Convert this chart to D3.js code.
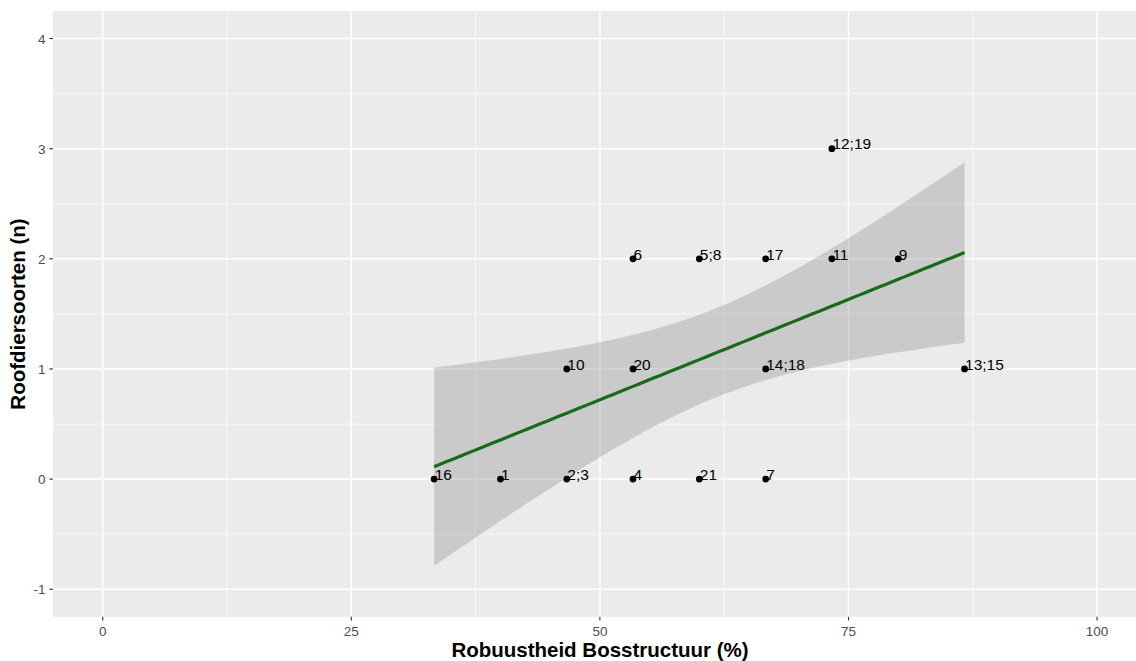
<!DOCTYPE html>
<html><head><meta charset="utf-8">
<script src="https://cdn.jsdelivr.net/npm/d3@7"></script>
<style>body{margin:0;background:#fff;}svg{display:block;}</style>
</head><body>
<svg id="c" width="1136" height="661"></svg>
<script>
// Data: site labels, robustness (%) and number of predator species
const labels = ["16","1","2;3","4","21","7","10","20","14;18","13;15","6","5;8","17","11","9","12;19"];
const xValues = [33.33,40,46.67,53.33,60,66.67,46.67,53.33,66.67,86.67,53.33,60,66.67,73.33,80,73.33];
const yValues = [0,0,0,0,0,0,1,1,1,1,2,2,2,2,2,3];
const counts = [1,1,2,1,1,1,1,1,2,2,1,2,1,1,1,2]; // number of sites per point (for regression)
const xTicks = [0,25,50,75,100];
const yTicks = [-1,0,1,2,3,4];

const svg = d3.select("#c");
const x = d3.scaleLinear().domain([-5,105]).range([53,1146.8]);
const y = d3.scaleLinear().domain([-1.25,4.25]).range([616.8,11]);

// panel
svg.append("rect").attr("x",53).attr("y",11).attr("width",1146.8-53).attr("height",616.8-11).attr("fill","#EBEBEB");
const grid = svg.append("g");
[12.5,37.5,62.5,87.5].forEach(v=>grid.append("line").attr("x1",x(v)).attr("x2",x(v)).attr("y1",11).attr("y2",616.8).attr("stroke","#fff").attr("stroke-width",0.7));
[-0.5,0.5,1.5,2.5,3.5].forEach(v=>grid.append("line").attr("y1",y(v)).attr("y2",y(v)).attr("x1",53).attr("x2",1146.8).attr("stroke","#fff").attr("stroke-width",0.7));
xTicks.forEach(v=>grid.append("line").attr("x1",x(v)).attr("x2",x(v)).attr("y1",11).attr("y2",616.8).attr("stroke","#fff").attr("stroke-width",1.5));
yTicks.forEach(v=>grid.append("line").attr("y1",y(v)).attr("y2",y(v)).attr("x1",53).attr("x2",1146.8).attr("stroke","#fff").attr("stroke-width",1.5));

// regression from data (sites expanded)
const xs=[], ys=[];
xValues.forEach((v,i)=>{for(let k=0;k<counts[i];k++){xs.push(v);ys.push(yValues[i]);}});
const n=xs.length, xm=d3.mean(xs), ym=d3.mean(ys);
let sxx=0,sxy=0; xs.forEach((v,i)=>{sxx+=(v-xm)**2;sxy+=(v-xm)*(ys[i]-ym);});
const b=sxy/sxx, a=ym-b*xm;
let sse=0; xs.forEach((v,i)=>{sse+=(ys[i]-a-b*v)**2;});
const s=Math.sqrt(sse/(n-2)), t=2.093;
const x0=d3.min(xs), x1=d3.max(xs);
const grid80=d3.range(0,81).map(i=>x0+(x1-x0)*i/80);
const band=grid80.map(v=>{const f=a+b*v, se=s*Math.sqrt(1/n+(v-xm)**2/sxx);return {x:v,lo:f-t*se,hi:f+t*se,f:f};});
svg.append("path").datum(band).attr("fill","#999999").attr("fill-opacity",0.4)
  .attr("d",d3.area().x(d=>x(d.x)).y0(d=>y(d.lo)).y1(d=>y(d.hi)));
svg.append("path").datum(band).attr("fill","none").attr("stroke","#186c18").attr("stroke-width",3.2)
  .attr("d",d3.line().x(d=>x(d.x)).y(d=>y(d.f)));

// points and labels
const pts = labels.map((l,i)=>({l:l,x:xValues[i],y:yValues[i]}));
svg.append("g").selectAll("circle").data(pts).join("circle")
  .attr("cx",d=>x(d.x)).attr("cy",d=>y(d.y)).attr("r",3.4).attr("fill","#000");
svg.append("g").selectAll("text").data(pts).join("text")
  .attr("x",d=>x(d.x)+0.5).attr("y",d=>y(d.y)+0.8).text(d=>d.l)
  .attr("font-family","Liberation Sans, Arial, sans-serif").attr("font-size",15.5).attr("fill","#000");

// axes
const ax=svg.append("g");
xTicks.forEach(v=>{
  ax.append("line").attr("x1",x(v)).attr("x2",x(v)).attr("y1",616.8).attr("y2",620.5).attr("stroke","#333").attr("stroke-width",1.1);
  ax.append("text").attr("x",x(v)).attr("y",636).attr("text-anchor","middle").text(v)
    .attr("font-family","Liberation Sans, Arial, sans-serif").attr("font-size",13.5).attr("fill","#4d4d4d");
});
yTicks.forEach(v=>{
  ax.append("line").attr("x1",49.3).attr("x2",53).attr("y1",y(v)).attr("y2",y(v)).attr("stroke","#333").attr("stroke-width",1.1);
  ax.append("text").attr("x",45.5).attr("y",y(v)+5).attr("text-anchor","end").text(v)
    .attr("font-family","Liberation Sans, Arial, sans-serif").attr("font-size",13.5).attr("fill","#4d4d4d");
});
svg.append("text").attr("x",600).attr("y",657).attr("text-anchor","middle").text("Robuustheid Bosstructuur (%)")
  .attr("font-family","Liberation Sans, Arial, sans-serif").attr("font-size",20.5).attr("font-weight","bold").attr("fill","#000");
svg.append("text").attr("transform","translate(25,314) rotate(-90)").attr("text-anchor","middle").text("Roofdiersoorten (n)")
  .attr("font-family","Liberation Sans, Arial, sans-serif").attr("font-size",20.5).attr("font-weight","bold").attr("fill","#000");
</script>
</body></html>
